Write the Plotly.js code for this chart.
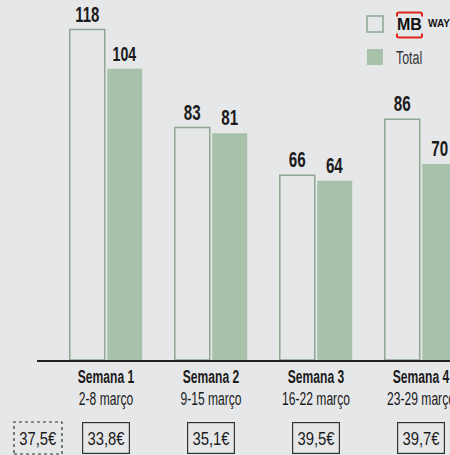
<!DOCTYPE html>
<html><head><meta charset="utf-8">
<script src="https://cdn.plot.ly/plotly-3.0.1.min.js"></script>
<style>html,body{margin:0;padding:0;background:#e6e7e9;}#chart{width:450px;height:455px;}</style>
</head><body><div id="chart"></div>
<script>
const weeks = ["Semana 1", "Semana 2", "Semana 3", "Semana 4"];
const dates = ["2-8 março", "9-15 março", "16-22 março", "23-29 março"];
const mbway = [118, 83, 66, 86];
const total = [104, 81, 64, 70];
const avgPrice = ["33,8€", "35,1€", "39,5€", "39,7€"];
const refPrice = "37,5€";
const legendNames = ["MB WAY", "Total"];

const FONT = "'Liberation Sans Narrow','Liberation Sans',Arial,sans-serif";
const LOGO = "'Liberation Sans',Arial,sans-serif";
const BG = "#e6e7e9", GREEN = "#a7c1ab", OUTLINE = "#8fa692", INK = "#1b1b1b";
const W = 450, H = 455, ML = 37, MB = 95;
const PW = W - ML, PH = H - MB;
const px = x => (x - ML) / PW;           // pixel -> paper x
const py = y => (PH - y) / PH;           // pixel -> paper y

const xs = weeks.map((_, i) => i);

const traces = [
  {type: "bar", name: legendNames[0], x: xs, y: mbway, text: mbway.map(String),
   textposition: "outside", cliponaxis: false,
   textfont: {family: FONT, size: 22, color: INK, weight: 700},
   marker: {color: BG, line: {color: OUTLINE, width: 1.5}}, hoverinfo: "skip"},
  {type: "bar", name: legendNames[1], x: xs, y: total, text: total.map(String),
   textposition: "outside", cliponaxis: false,
   textfont: {family: FONT, size: 22, color: INK, weight: 700},
   marker: {color: GREEN, line: {width: 0}}, hoverinfo: "skip"}
];

const annotations = avgPrice.map((t, i) => ({
  x: i, xref: "x", y: py(438), yref: "paper", text: t, showarrow: false,
  font: {family: FONT, size: 19, color: INK}, bordercolor: "#333", borderwidth: 1.2,
  borderpad: 0, width: 46, height: 30, xanchor: "center", yanchor: "middle"
}));
annotations.push({x: px(38), xref: "paper", y: py(438), yref: "paper", text: refPrice,
  showarrow: false, font: {family: FONT, size: 19, color: INK}, xanchor: "center", yanchor: "middle"});
// legend text
annotations.push({x: px(394), xref: "paper", y: py(58), yref: "paper", text: legendNames[1], align: "left",
  showarrow: false, font: {family: FONT, size: 18, color: "#333"}, xanchor: "left", yanchor: "middle"});
annotations.push({x: px(409.5), xref: "paper", y: py(24.5), yref: "paper", text: "MB",
  showarrow: false, font: {family: LOGO, size: 16, color: "#111", weight: 700}, xanchor: "center", yanchor: "middle"});
annotations.push({x: px(425.5), xref: "paper", y: py(23.5), yref: "paper", text: "WAY",
  showarrow: false, font: {family: LOGO, size: 10, color: "#111", weight: 700}, xanchor: "left", yanchor: "middle"});

const shapes = [
  {type: "rect", xref: "paper", yref: "paper", x0: px(14), x1: px(62), y0: py(454), y1: py(422),
   line: {color: "#333", width: 1.2, dash: "dot"}},
  {type: "rect", xref: "paper", yref: "paper", x0: px(367), x1: px(383), y0: py(32), y1: py(16),
   line: {color: OUTLINE, width: 1.5}, fillcolor: BG},
  {type: "rect", xref: "paper", yref: "paper", x0: px(367), x1: px(383), y0: py(65), y1: py(49),
   line: {width: 0}, fillcolor: GREEN},
  {type: "path", xref: "paper", yref: "paper",
   path: `M ${px(397)} ${py(16.5)} L ${px(397)} ${py(14)} Q ${px(397)} ${py(12.5)} ${px(399)} ${py(12.5)} L ${px(420)} ${py(12.5)} Q ${px(422)} ${py(12.5)} ${px(422)} ${py(14)} L ${px(422)} ${py(16.5)}`,
   line: {color: "#e2231a", width: 2}},
  {type: "path", xref: "paper", yref: "paper",
   path: `M ${px(397)} ${py(33.5)} L ${px(397)} ${py(36)} Q ${px(397)} ${py(37.5)} ${px(399)} ${py(37.5)} L ${px(420)} ${py(37.5)} Q ${px(422)} ${py(37.5)} ${px(422)} ${py(36)} L ${px(422)} ${py(33.5)}`,
   line: {color: "#e2231a", width: 2}}
];

const layout = {
  width: W, height: H, paper_bgcolor: BG, plot_bgcolor: BG,
  margin: {l: ML, r: 0, t: 0, b: MB, pad: 0},
  showlegend: false, barmode: "group", bargap: 0.286, bargroupgap: 0.067,
  font: {family: FONT, color: INK},
  xaxis: {range: [(ML - 106) / 105, (ML - 106) / 105 + PW / 105], tickvals: xs,
    ticktext: weeks.map((w, i) => `<b>${w}</b><br>${dates[i]}`),
    ticklabeloverflow: "allow",
    tickfont: {family: FONT, size: 17.5, color: INK}, showline: true, linecolor: "#222", linewidth: 1.5,
    ticks: "", showgrid: false, zeroline: false, fixedrange: true},
  yaxis: {range: [0, PH / 2.8], visible: false, showgrid: false, zeroline: false, fixedrange: true},
  annotations, shapes
};
// horizontal squeeze to mimic the condensed face of the original
const squeeze = s => s.includes("€") ? 0.78 : 0.69;
Plotly.newPlot("chart", traces, layout, {displayModeBar: false, staticPlot: true}).then(gd => {
  gd.querySelectorAll("svg text").forEach(t => {
    const s = t.textContent;
    if (s === "MB" || s === "WAY") return;
    const lines = t.querySelectorAll("tspan.line");
    const els = lines.length ? Array.from(lines) : [t];
    els.forEach(el => {
      const L = el.getComputedTextLength();
      if (L > 0) {
        el.setAttribute("textLength", (L * squeeze(s)).toFixed(2));
        el.setAttribute("lengthAdjust", "spacingAndGlyphs");
      }
    });
  });
});
</script></body></html>
